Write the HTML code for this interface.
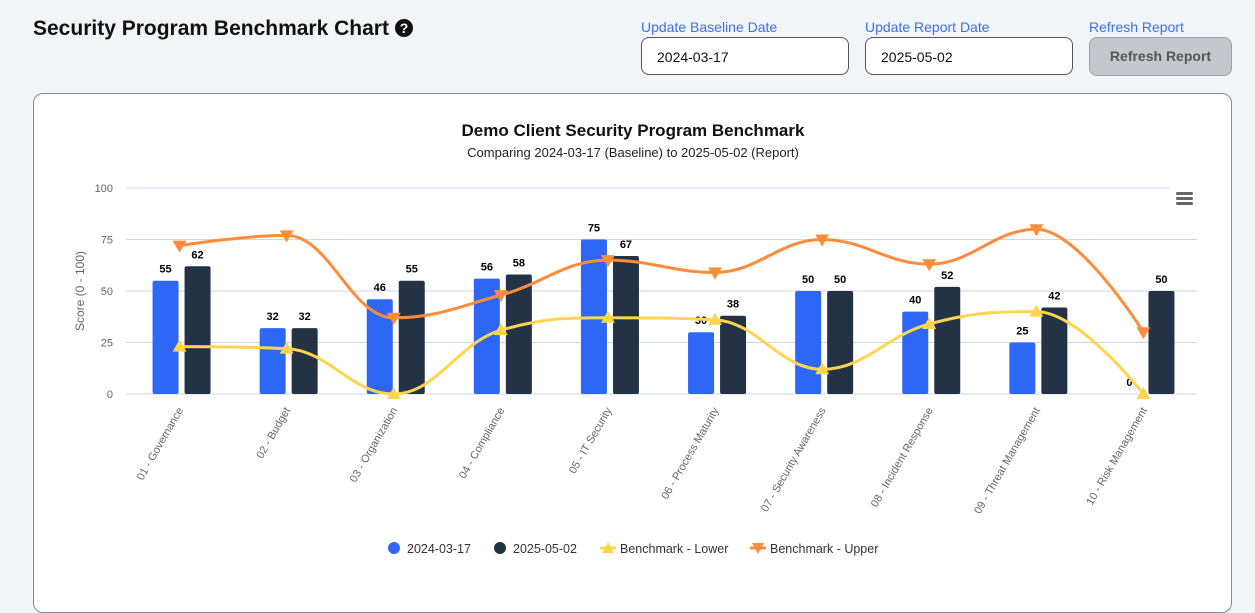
<!DOCTYPE html>
<html><head><meta charset="utf-8">
<style>
body{margin:0;width:1255px;height:594px;background:#f2f5f8;font-family:"Liberation Sans",sans-serif;overflow:hidden;position:relative}
.title{position:absolute;left:33px;top:17px;font-size:21px;font-weight:bold;color:#111}
.help{display:inline-block;width:18px;height:18px;border-radius:50%;background:#111;color:#fff;font-size:14px;text-align:center;line-height:18px;vertical-align:2px;margin-left:6px}
.lbl{position:absolute;top:19px;font-size:14px;color:#3b6fe8}
.inp{position:absolute;top:37px;height:38px;border:1px solid #555;border-radius:8px;background:#fff;font-size:14px;line-height:38px;padding-left:15px;box-sizing:border-box;color:#111}
.btn{position:absolute;left:1089px;top:37px;width:143px;height:39px;border-radius:8px;background:#c4c8cc;border:1px solid #9aa0a6;box-sizing:border-box;font-size:14px;font-weight:bold;color:#555;text-align:center;line-height:37px}
.card{position:absolute;left:33px;top:93px;width:1199px;height:520px;background:#fff;border:1px solid #888;border-radius:10px;box-sizing:border-box}
svg{position:absolute;left:0;top:0}
</style></head><body>
<div class="title">Security Program Benchmark Chart<span class="help">?</span></div>
<div class="lbl" style="left:641px">Update Baseline Date</div>
<div class="inp" style="left:641px;width:208px">2024-03-17</div>
<div class="lbl" style="left:865px">Update Report Date</div>
<div class="inp" style="left:865px;width:208px">2025-05-02</div>
<div class="lbl" style="left:1089px">Refresh Report</div>
<div class="btn">Refresh Report</div>
<div class="card"></div>
<svg id="chart" width="1255" height="594" font-family="Liberation Sans, sans-serif"></svg>
<script>
const categories=["01 - Governance","02 - Budget","03 - Organization","04 - Compliance","05 - IT Security","06 - Process Maturity","07 - Security Awareness","08 - Incident Response","09 - Threat Management","10 - Risk Management"];
const baseline=[55,32,46,56,75,30,50,40,25,0];
const report=[62,32,55,58,67,38,50,52,42,50];
const lower=[23,22,0,31,37,36,12,34,40,0];
const upper=[72,77,37,48,65,59,75,63,80,30];
const yTicks=[0,25,50,75,100];

const svg=document.getElementById('chart');
const NS='http://www.w3.org/2000/svg';
const x0=126,x1=1197,y0=394,y1=188;
const step=(x1-x0)/categories.length;
const X=i=>x0+step*(i+0.5);
const Y=v=>y0-(v/100)*(y0-y1);
function mk(tag,attrs,parent){const e=document.createElementNS(NS,tag);for(const k in attrs)e.setAttribute(k,attrs[k]);(parent||svg).appendChild(e);return e;}

let t=mk('text',{x:633,y:136,'text-anchor':'middle','font-size':17,'font-weight':'bold',fill:'#111'});t.textContent='Demo Client Security Program Benchmark';


t=mk('text',{x:633,y:157,'text-anchor':'middle','font-size':13,fill:'#222'});t.textContent='Comparing 2024-03-17 (Baseline) to 2025-05-02 (Report)';



yTicks.forEach(v=>{
  const l=mk('line',{x1:x0,x2:v===100?1170:x1,y1:Y(v),y2:Y(v),stroke:'#ccd6eb','stroke-width':1});
  
  
  const tx=mk('text',{x:113,y:Y(v)+4,'text-anchor':'end','font-size':11,fill:'#666'});tx.textContent=v;
  
  
});
t=mk('text',{x:84,y:291,'text-anchor':'middle','font-size':12,fill:'#666',transform:'rotate(-90 84 291)'});t.textContent='Score (0 - 100)';



const menu=mk('g',{});


[192,197,202].forEach(yy=>mk('rect',{x:1176,y:yy,width:17,height:3,rx:1.5,fill:'#666'},menu));

categories.forEach((c,i)=>{
  const cx=X(i);
  [[baseline,'#2e66f5',-27],[report,'#233345',5]].forEach(([arr,col,off],k)=>{
    const v=arr[i];
    const r=mk('rect',{x:cx+off,y:Y(v),width:26,height:Y(0)-Y(v),fill:col,rx:2});
    
    
    const lb=mk('text',{x:cx+off+13,y:Y(v)-8,'text-anchor':'middle','font-size':11,'font-weight':'bold',fill:'#000'});lb.textContent=v;
    
    
  });
  const tl=mk('text',{x:cx+4,y:410,'text-anchor':'end','font-size':11,fill:'#666',transform:`rotate(-60 ${cx+4} 410)`});tl.textContent=c;
  
  
});

function spline(arr){
  const p=arr.map((v,i)=>({x:X(i),y:Y(v)}));
  const sm=1.5,den=sm+1;
  for(let i=1;i<p.length-1;i++){
    const a=p[i-1],b=p[i],n=p[i+1];
    let lx=(sm*b.x+a.x)/den,ly=(sm*b.y+a.y)/den,rx=(sm*b.x+n.x)/den,ry=(sm*b.y+n.y)/den;
    const corr=((ry-ly)*(rx-b.x))/(rx-lx)+b.y-ry;
    ly+=corr;ry+=corr;
    if(ly>a.y&&ly>b.y){ly=Math.max(a.y,b.y);ry=2*b.y-ly;}
    else if(ly<a.y&&ly<b.y){ly=Math.min(a.y,b.y);ry=2*b.y-ly;}
    if(ry>n.y&&ry>b.y){ry=Math.max(n.y,b.y);ly=2*b.y-ry;}
    else if(ry<n.y&&ry<b.y){ry=Math.min(n.y,b.y);ly=2*b.y-ry;}
    b.lx=lx;b.ly=ly;b.rx=rx;b.ry=ry;
  }
  let d=`M${p[0].x},${p[0].y}`;
  for(let i=1;i<p.length;i++){
    const a=p[i-1],b=p[i];
    d+=` C${a.rx??a.x},${a.ry??a.y} ${b.lx??b.x},${b.ly??b.y} ${b.x},${b.y}`;
  }
  return d;
}
[[lower,'#ffd54f','up'],[upper,'#ff8c3a','down']].forEach(([arr,col,dir])=>{
  const pth=mk('path',{d:spline(arr),fill:'none',stroke:col,'stroke-width':3});
  
  
  arr.forEach((v,i)=>{
    const x=X(i),y=Y(v);
    const pts=dir==='up'?`${x},${y-7} ${x+7},${y+5} ${x-7},${y+5}`:`${x},${y+7} ${x+7},${y-5} ${x-7},${y-5}`;
    const m=mk('polygon',{points:pts,fill:col});
    
    
  });
});

const lg=[['2024-03-17','#2e66f5','dot',388],['2025-05-02','#233345','dot',494],['Benchmark - Lower','#ffd54f','up',600],['Benchmark - Upper','#ff8c3a','down',750]];
lg.forEach(([name,col,shape,lx])=>{
  const g=mk('g',{});
  
  
  const cy=548;
  if(shape==='dot')mk('circle',{cx:lx+6,cy:cy,r:6,fill:col},g);
  else{
    mk('line',{x1:lx,x2:lx+16,y1:cy,y2:cy,stroke:col,'stroke-width':3},g);
    const pts=shape==='up'?`${lx+8},${cy-6} ${lx+14},${cy+5} ${lx+2},${cy+5}`:`${lx+8},${cy+6} ${lx+14},${cy-5} ${lx+2},${cy-5}`;
    mk('polygon',{points:pts,fill:col},g);
  }
  const tx=mk('text',{x:lx+(shape==='dot'?19:20),y:cy+5,'font-size':12.5,fill:'#333'},g);tx.textContent=name;
});
</script>
</body></html>
